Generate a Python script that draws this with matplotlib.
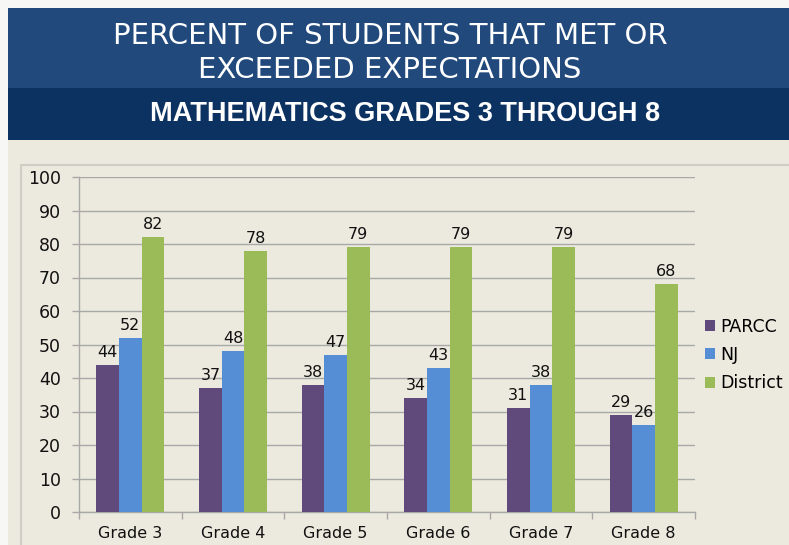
import matplotlib
matplotlib.use("Agg")
import matplotlib.pyplot as plt
import numpy as np
from matplotlib.patches import Rectangle

grades = ["Grade 3", "Grade 4", "Grade 5", "Grade 6", "Grade 7", "Grade 8"]
parcc = [44, 37, 38, 34, 31, 29]
nj = [52, 48, 47, 43, 38, 26]
district = [82, 78, 79, 79, 79, 68]
series_names = ["PARCC", "NJ", "District"]
colors = ["#604a7b", "#558ed5", "#9bbb59"]

title_lines = ["PERCENT OF STUDENTS THAT MET OR", "EXCEEDED EXPECTATIONS"]
subtitle = "MATHEMATICS GRADES 3 THROUGH 8"

W, H = 789, 545
fig = plt.figure(figsize=(W / 100, H / 100), dpi=100)
fig.patch.set_facecolor("#eceadf")

def fx(px):
    return px / W

def fy(py):
    return 1 - py / H

# left white strip
fig.patches.append(Rectangle((0, 0), fx(8), 1, transform=fig.transFigure,
                             facecolor="#f7f7f5", edgecolor="none", zorder=0))
# top white strip
fig.patches.append(Rectangle((0, fy(8)), 1, 8 / H, transform=fig.transFigure,
                             facecolor="#f7f7f5", edgecolor="none", zorder=0))
# header bands
fig.patches.append(Rectangle((fx(8), fy(88)), 1, 80 / H, transform=fig.transFigure,
                             facecolor="#22497b", edgecolor="none", zorder=1))
fig.patches.append(Rectangle((fx(8), fy(140)), 1, 52 / H, transform=fig.transFigure,
                             facecolor="#0c3262", edgecolor="none", zorder=1))
# chart area border
fig.patches.append(Rectangle((fx(21), fy(560)), fx(800), 395 / H, transform=fig.transFigure,
                             facecolor="none", edgecolor="#cfcdc5", linewidth=1.5, zorder=1))

fig.text(fx(390), fy(36), title_lines[0], color="white", fontsize=21,
         family="DejaVu Sans", ha="center", va="center", zorder=3)
fig.text(fx(390), fy(70), title_lines[1], color="white", fontsize=21,
         family="DejaVu Sans", ha="center", va="center", zorder=3)
fig.text(fx(405), fy(114), subtitle, color="white", fontsize=19.5, fontweight="bold",
         family=["Liberation Sans Narrow", "Liberation Sans", "DejaVu Sans"],
         ha="center", va="center", zorder=3)

ax_l, ax_r, ax_t, ax_b = 79, 695, 177, 512
ax = fig.add_axes([fx(ax_l), fy(ax_b), fx(ax_r) - fx(ax_l), (ax_b - ax_t) / H])
ax.set_facecolor("#eceadf")

x = np.arange(len(grades))
bw = 0.22
for i, (vals, name, c) in enumerate(zip([parcc, nj, district], series_names, colors)):
    pos = x + (i - 1) * bw
    ax.bar(pos, vals, width=bw, color=c, label=name, zorder=3)
    for p, v in zip(pos, vals):
        ax.text(p, v + 1.5, str(v), ha="center", va="bottom", fontsize=11.5,
                color="#111111", zorder=4)

grid_c = "#a8a8a8"
ax.set_ylim(0, 100)
ax.set_xlim(-0.5, len(grades) - 0.5)
ax.set_yticks(np.arange(0, 101, 10))
ax.yaxis.grid(True, color=grid_c, linewidth=1.0, zorder=0)
ax.set_axisbelow(True)
ax.set_xticks(x)
ax.set_xticklabels(grades, fontsize=11.5, color="#111111")
ax.set_xticks(np.arange(-0.5, len(grades)), minor=True)
ax.tick_params(axis="x", which="major", length=0, pad=10)
ax.tick_params(axis="x", which="minor", length=5, color=grid_c, width=1.0)
ax.tick_params(axis="y", length=5, color=grid_c, width=1.0, labelsize=12.5,
               labelcolor="#111111", pad=8)
for s in ["top", "right"]:
    ax.spines[s].set_visible(False)
for s in ["left", "bottom"]:
    ax.spines[s].set_color(grid_c)
    ax.spines[s].set_linewidth(1.0)

ax_w = ax_r - ax_l
leg = ax.legend(loc="center left", bbox_to_anchor=((705 - ax_l) / ax_w, (ax_b - 355) / (ax_b - ax_t)),
                frameon=False, fontsize=12.5, handlelength=0.6, handleheight=0.6,
                handletextpad=0.3, labelspacing=0.6, borderpad=0, borderaxespad=0)

fig.savefig("out.png", dpi=100, facecolor=fig.get_facecolor())
